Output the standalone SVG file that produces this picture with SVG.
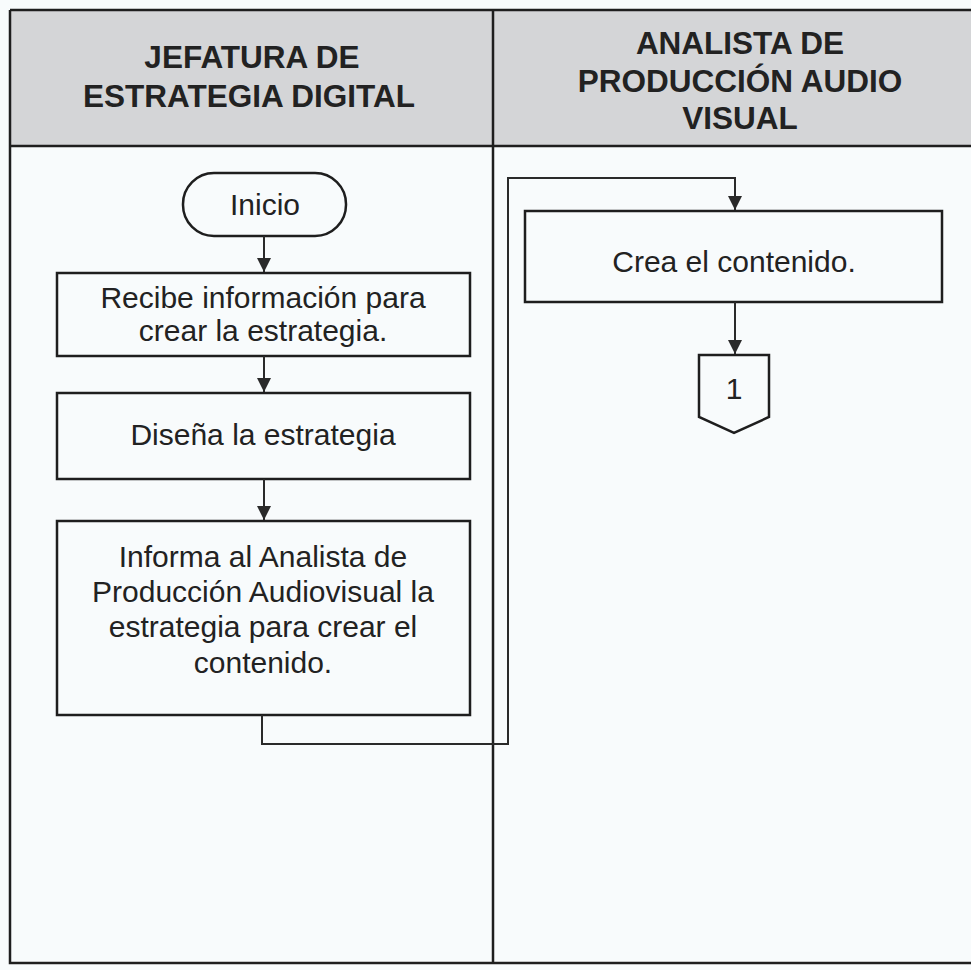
<svg xmlns="http://www.w3.org/2000/svg" width="971" height="970" viewBox="0 0 971 970">
<defs>
<style>
.frame{fill:none;stroke:#1e1e1e;stroke-width:2.5}
.box{fill:#f8fbfc;stroke:#1e1e1e;stroke-width:2.5}
.hdr{font-family:"Liberation Sans",Arial,sans-serif;font-weight:bold;font-size:31.5px;fill:#222;text-anchor:middle}
.txt{font-family:"Liberation Sans",Arial,sans-serif;font-size:30px;fill:#222;text-anchor:middle}
.conn{fill:none;stroke:#2a2a2a;stroke-width:2}
</style>
<marker id="arr" viewBox="0 0 14 14" refX="14" refY="7" markerWidth="14" markerHeight="14" markerUnits="userSpaceOnUse" orient="auto">
<path d="M0,0 L14,7 L0,14 Z" fill="#2a2a2a"/>
</marker>
</defs>
<rect x="0" y="0" width="971" height="970" fill="#f8fbfc"/>
<g id="lanes">
<rect x="10" y="10" width="980" height="136" fill="#d4d5d7"/>
<path class="frame" d="M10,10 H975 M10,146 H975 M10,10 V963 H975 M493,10 V963"/>
<text class="hdr" x="252" y="68">JEFATURA DE</text>
<text class="hdr" x="249" y="107">ESTRATEGIA DIGITAL</text>
<text class="hdr" x="740" y="54">ANALISTA DE</text>
<text class="hdr" x="740" y="92">PRODUCCIÓN AUDIO</text>
<text class="hdr" x="740" y="129">VISUAL</text>
</g>
<g id="inicio">
<rect class="box" x="183" y="173" width="163" height="63" rx="31" ry="31"/>
<text class="txt" x="265" y="215">Inicio</text>
</g>
<g id="recibe">
<rect class="box" x="57" y="273" width="413" height="83"/>
<text class="txt" x="263" y="308">Recibe información para</text>
<text class="txt" x="263" y="341">crear la estrategia.</text>
</g>
<g id="disena">
<rect class="box" x="57" y="393" width="413" height="86"/>
<text class="txt" x="263" y="445">Diseña la estrategia</text>
</g>
<g id="informa">
<rect class="box" x="57" y="521" width="413" height="194"/>
<text class="txt" x="263" y="567">Informa al Analista de</text>
<text class="txt" x="263" y="602">Producción Audiovisual la</text>
<text class="txt" x="263" y="637">estrategia para crear el</text>
<text class="txt" x="263" y="673">contenido.</text>
</g>
<g id="crea">
<rect class="box" x="525" y="211" width="417" height="91"/>
<text class="txt" x="734" y="272">Crea el contenido.</text>
</g>
<g id="conector1">
<polygon class="box" points="699,355 769,355 769,417 734,433 699,417"/>
<text class="txt" x="734" y="399">1</text>
</g>
<g id="connectors">
<path class="conn" d="M264,236 V272" marker-end="url(#arr)"/>
<path class="conn" d="M264,356 V392" marker-end="url(#arr)"/>
<path class="conn" d="M264,479 V520" marker-end="url(#arr)"/>
<path class="conn" d="M262,715 V744 H508 V178 H735 V210" marker-end="url(#arr)"/>
<path class="conn" d="M735,302 V354" marker-end="url(#arr)"/>
</g>
</svg>
